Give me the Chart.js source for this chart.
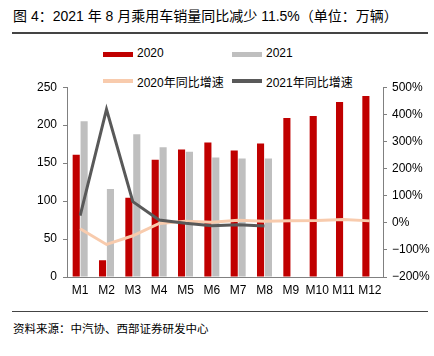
<!DOCTYPE html>
<html><head><meta charset="utf-8">
<script src="https://cdn.jsdelivr.net/npm/chart.js@4"></script>
<style>
html,body{margin:0;padding:0;background:#fff;width:434px;height:356px;overflow:hidden;font-family:"Liberation Sans",Arial,sans-serif;}
#title{position:absolute;left:13px;top:5px;font-size:14px;color:#000;font-family:"Liberation Sans","Noto Sans CJK SC",sans-serif;white-space:nowrap;}
.hr{position:absolute;left:12px;width:416px;height:1px;background:#444;}
#src{position:absolute;left:13px;top:320px;font-size:11.5px;color:#000;font-family:"Noto Sans CJK SC",sans-serif;white-space:nowrap;}
.lg{position:absolute;font-size:12px;color:#000;white-space:nowrap;font-family:"Liberation Sans","Noto Sans CJK SC",sans-serif;}
.sw{position:absolute;width:30px;}
#box{position:absolute;left:0;top:74px;width:434px;height:226px;}
</style></head><body>
<div id="title">图 4：2021 年 8 月乘用车销量同比减少 11.5%（单位：万辆）</div>
<div class="hr" style="top:32px;height:1.5px"></div>
<div id="legend"></div>
<div id="box"><canvas id="c"></canvas></div>
<div class="hr" style="top:311px"></div>
<div id="src">资料来源：中汽协、西部证券研发中心</div>
<script>
const categories = ['M1','M2','M3','M4','M5','M6','M7','M8','M9','M10','M11','M12'];
const sales2020 = [161, 22, 104.5, 154.5, 168, 177, 166.5, 176, 209.5, 212, 230.5, 238.5];
const sales2021 = [205, 116, 188, 171, 165, 157.5, 156, 156];
const yoy2020 = [-22, -80, -48, -2.5, 6, 1.8, 9, 6, 7.4, 8.5, 12, 7];
const yoy2021 = [26, 418, 78, 10, -2, -11, -7, -11.5];
const leftTicks = {min:0, max:250, step:50};
const rightTicks = {min:-200, max:500, step:100};

const names = ['2020','2021','2020年同比增速','2021年同比增速'];
const colors = ['#C00000','#BFBFBF','#F8CBAD','#595959'];

// HTML legend
const lg = document.getElementById('legend');
const pos = [[103,54,5],[232,54,5],[103,81,4],[232,81,4]];
names.forEach((n,i)=>{
  const [x,y,h]=pos[i];
  const s=document.createElement('div');s.className='sw';
  s.style.left=x+'px';s.style.top=(y-h/2)+'px';s.style.height=h+'px';s.style.background=colors[i];
  lg.appendChild(s);
  const t=document.createElement('div');t.className='lg';t.textContent=n;
  t.style.left=(x+34)+'px';t.style.top=(y-8)+'px';
  lg.appendChild(t);
});

const axisColor = '#808080';
new Chart(document.getElementById('c'), {
  data: {
    labels: categories,
    datasets: [
      {type:'bar', label:names[0], data:sales2020, backgroundColor:colors[0], yAxisID:'y', order:2, categoryPercentage:0.6, barPercentage:0.9},
      {type:'bar', label:names[1], data:sales2021, backgroundColor:colors[1], yAxisID:'y', order:2, categoryPercentage:0.6, barPercentage:0.9},
      {type:'line', label:names[2], data:yoy2020, borderColor:colors[2], borderWidth:3, pointRadius:0, tension:0, yAxisID:'y1', order:1},
      {type:'line', label:names[3], data:yoy2021, borderColor:colors[3], borderWidth:3, pointRadius:0, tension:0, yAxisID:'y1', order:0}
    ]
  },
  options: {
    responsive:true, maintainAspectRatio:false, animation:false,
    layout:{padding:{top:0,bottom:0,left:0,right:0}},
    plugins:{legend:{display:false}, tooltip:{enabled:false}},
    scales:{
      x:{
        grid:{display:true, drawOnChartArea:false, drawTicks:false, color:axisColor},
        border:{display:true, color:axisColor, width:1},
        ticks:{color:'#000', font:{size:12, family:'"Liberation Sans", Arial'}, padding:6, maxRotation:0, autoSkip:false},
        afterFit:(s)=>{s.height=23;}
      },
      y:{
        position:'left', min:leftTicks.min, max:leftTicks.max,
        grid:{display:true, drawOnChartArea:false, drawTicks:true, tickLength:4, color:axisColor},
        border:{display:true, color:axisColor, width:1},
        ticks:{stepSize:leftTicks.step, color:'#000', font:{size:12, family:'"Liberation Sans", Arial'}, padding:6},
        afterFit:(s)=>{s.width=67;}
      },
      y1:{
        position:'right', min:rightTicks.min, max:rightTicks.max,
        grid:{display:true, drawOnChartArea:false, drawTicks:true, tickLength:4, color:axisColor},
        border:{display:true, color:axisColor, width:1},
        ticks:{stepSize:rightTicks.step, color:'#000', font:{size:12, family:'"Liberation Sans", Arial'}, padding:5,
          callback:(v)=> (v<0 ? '\u2212'+(-v) : v)+'%'},
        afterFit:(s)=>{s.width=51;}
      }
    }
  }
});
</script>
</body></html>
